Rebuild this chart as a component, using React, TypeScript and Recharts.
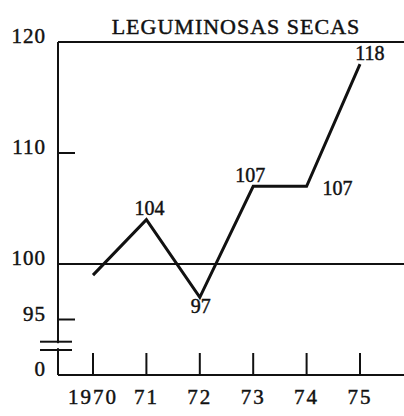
import { LineChart, Line, XAxis, YAxis, ReferenceLine, LabelList } from "recharts";

const years = ["1970", "71", "72", "73", "74", "75"];
const values = [99, 104, 97, 107, 107, 118];
const yTicks = [90, 92.25, 93, 95, 100, 110, 120];
const breakTicks = [92.25, 93];
const title = "LEGUMINOSAS SECAS";

const data = years.map((y, i) => ({ year: y, value: values[i] }));

const FONT = "'Liberation Serif', 'DejaVu Serif', serif";
const INK = "#111";
const BOLDEN = { stroke: INK, strokeWidth: 0.45 };

// where each value label sits relative to its point: dx, dy, anchor
const labelPos: ([number, number, string] | null)[] = [
  null,
  [3, -5, "middle"],
  [1, 16, "middle"],
  [-3, -4, "middle"],
  [16, 9, "start"],
  [10, -4, "middle"],
];

function YTick(props: any) {
  const { x, y, payload } = props;
  const v = payload.value;
  if (breakTicks.includes(v)) {
    return (
      <g>
        <line x1={x - 18} x2={x + 14} y1={y} y2={y} stroke={INK} strokeWidth={2} />
        {v === 93 && <rect x={x - 2} y={y + 1.5} width={4} height={5} fill="#fff" />}
      </g>
    );
  }
  return (
    <g>
      <text x={x - 12} y={y + 1} textAnchor="end" fontFamily={FONT} fontSize={21} letterSpacing={1} fill={INK} {...BOLDEN}>
        {v === 90 ? "0" : v}
      </text>
      {(v === 95 || v === 110) && <line x1={x} x2={x + 17} y1={y} y2={y} stroke={INK} strokeWidth={2} />}
    </g>
  );
}

function XTick(props: any) {
  const { x, y, payload } = props;
  return (
    <g>
      <line x1={x} x2={x} y1={y} y2={y - 22} stroke={INK} strokeWidth={2} />
      <text x={x} y={y + 29} textAnchor="middle" fontFamily={FONT} fontSize={21} letterSpacing={2} fill={INK} {...BOLDEN}>
        {payload.value}
      </text>
    </g>
  );
}

function ValueLabel(props: any) {
  const { x, y, value, index } = props;
  const p = labelPos[index];
  if (!p) return null;
  return (
    <text x={x + p[0]} y={y + p[1]} textAnchor={p[2]} fontFamily={FONT} fontSize={20} fill={INK} {...BOLDEN}>
      {value}
    </text>
  );
}

function Title(props: any) {
  const vb = props.viewBox;
  return (
    <text x={vb.x + vb.width / 2 + 5} y={vb.y - 8} textAnchor="middle" fontFamily={FONT} fontSize={22} letterSpacing={1} fill={INK} {...BOLDEN}>
      {title}
    </text>
  );
}

export default function App() {
  return (
    <div style={{ position: "absolute", left: 0, top: 0, background: "#fff" }}>
      <LineChart width={404} height={416} data={data} margin={{ top: 42, right: 0, left: 8, bottom: 0 }}>
        <XAxis
          dataKey="year"
          padding={{ left: 35, right: 44 }}
          height={41}
          tickSize={0}
          tickMargin={0}
          tick={<XTick />}
          interval={0}
          axisLine={{ stroke: INK, strokeWidth: 2 }}
          tickLine={false}
        />
        <YAxis
          type="number"
          domain={[90, 120]}
          ticks={yTicks}
          interval={0}
          width={50}
          tickSize={0}
          tickMargin={0}
          tick={<YTick />}
          axisLine={{ stroke: INK, strokeWidth: 2 }}
          tickLine={false}
        />
        <ReferenceLine y={120} stroke={INK} strokeWidth={2} label={<Title />} />
        <ReferenceLine y={100} stroke={INK} strokeWidth={2} />
        <Line
          type="linear"
          dataKey="value"
          stroke={INK}
          strokeWidth={3}
          dot={false}
          isAnimationActive={false}
        >
          <LabelList dataKey="value" content={<ValueLabel />} />
        </Line>
      </LineChart>
    </div>
  );
}
